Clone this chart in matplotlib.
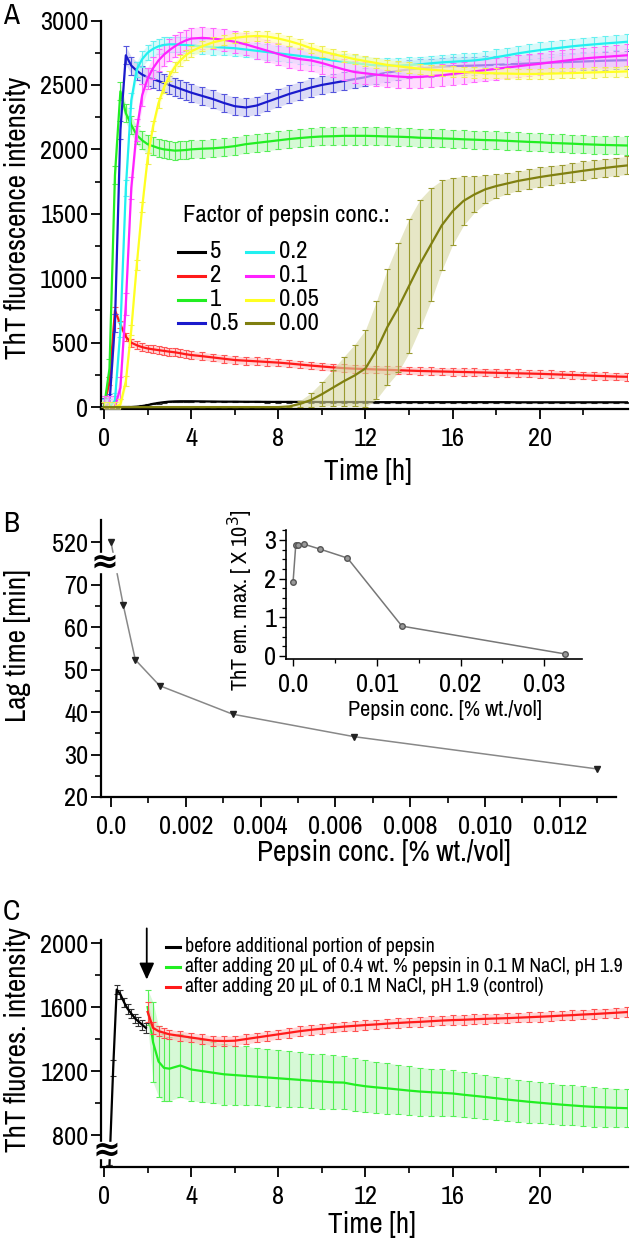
import matplotlib
matplotlib.use('Agg')
import matplotlib.pyplot as plt
from matplotlib.lines import Line2D
from matplotlib.patches import Rectangle
from matplotlib.ticker import MultipleLocator, FixedLocator
import matplotlib.font_manager as fm

available = {f.name for f in fm.fontManager.ttflist}
candidates = ['Liberation Sans Narrow', 'Arial Narrow', 'Archivo Narrow', 'Roboto Condensed',
              'PT Sans Narrow', 'Pragati Narrow', 'Open Sans Condensed']
narrow = next((c for c in candidates if c in available), None)
if narrow:
    FONT = [narrow, 'Liberation Sans', 'DejaVu Sans']
    SC = 1.0
else:
    FONT = ['Liberation Sans', 'DejaVu Sans']
    SC = 0.84
plt.rcParams['font.family'] = FONT

W, H = 633, 1243
fig = plt.figure(figsize=(W / 100, H / 100), dpi=100)


def fx(x):
    return x / W


def fy(y):
    return 1 - y / H


def ax_px(l, t, r, b):
    return fig.add_axes([l / W, 1 - b / H, (r - l) / W, (b - t) / H])


# ---------------------------------------------------------------- data A
t_a = [0, 0.25, 0.5, 0.75, 1, 1.25, 1.5, 1.75, 2, 2.25, 2.5, 2.75, 3, 3.25, 3.5, 3.75, 4,
       4.5, 5, 5.5, 6, 6.5, 7, 7.5, 8, 8.5, 9, 9.5, 10, 10.5, 11, 11.5, 12, 12.5, 13, 13.5,
       14, 14.5, 15, 15.5, 16, 16.5, 17, 17.5, 18, 18.5, 19, 19.5, 20, 20.5, 21, 21.5, 22,
       22.5, 23, 23.5, 24]

f5 = [0, 0, 0, 0, 0, 0, 3, 8, 15, 25, 32, 38, 42, 44, 45, 45, 45,
      44, 43, 42, 42, 41, 41, 40, 40, 40, 40, 40, 39, 39, 39, 39, 39, 38, 38, 38,
      38, 38, 38, 38, 38, 38, 38, 38, 38, 38, 37, 37, 37, 37, 37, 37, 37, 37, 37, 37, 37]
f2 = [0, 200, 750, 640, 545, 500, 480, 465, 455, 448, 442, 436, 430, 425, 418, 410, 404,
      395, 385, 375, 365, 360, 355, 350, 345, 338, 330, 322, 315, 308, 302, 298, 295, 292,
      289, 286, 283, 280, 278, 276, 274, 272, 270, 268, 266, 264, 262, 260, 258, 255, 252,
      249, 246, 243, 240, 237, 235]
f1 = [0, 300, 1800, 2450, 2280, 2190, 2110, 2070, 2040, 2025, 2010, 2000, 1995, 1990, 1992,
      1995, 2000, 2005, 2008, 2015, 2025, 2040, 2050, 2060, 2070, 2080, 2088, 2095, 2100,
      2102, 2105, 2105, 2105, 2103, 2100, 2098, 2095, 2090, 2088, 2085, 2082, 2078, 2075,
      2072, 2070, 2066, 2062, 2058, 2055, 2050, 2047, 2044, 2040, 2037, 2034, 2032, 2030]
f05 = [0, 30, 650, 2150, 2730, 2650, 2610, 2580, 2560, 2545, 2530, 2515, 2500, 2485, 2470,
       2455, 2440, 2415, 2390, 2360, 2335, 2325, 2340, 2370, 2400, 2430, 2455, 2480, 2500,
       2515, 2530, 2545, 2560, 2580, 2595, 2610, 2620, 2628, 2635, 2640, 2645, 2648, 2650,
       2653, 2656, 2660, 2663, 2666, 2670, 2673, 2676, 2679, 2682, 2685, 2688, 2690, 2692]
f02 = [0, 0, 50, 600, 1700, 2380, 2620, 2700, 2750, 2780, 2800, 2810, 2815, 2815, 2812,
       2810, 2805, 2800, 2795, 2790, 2785, 2775, 2765, 2755, 2745, 2735, 2725, 2715, 2705,
       2690, 2680, 2670, 2660, 2652, 2650, 2650, 2655, 2660, 2668, 2675, 2680, 2685, 2690,
       2700, 2715, 2730, 2745, 2758, 2770, 2780, 2790, 2800, 2808, 2815, 2822, 2828, 2835]
f01 = [0, 0, 0, 150, 800, 1700, 2150, 2420, 2550, 2630, 2690, 2735, 2770, 2800, 2825, 2845,
       2860, 2865, 2860, 2850, 2835, 2815, 2790, 2765, 2740, 2715, 2700, 2690, 2670, 2645,
       2620, 2600, 2590, 2580, 2572, 2565, 2560, 2562, 2568, 2575, 2585, 2595, 2605, 2615,
       2625, 2635, 2645, 2655, 2664, 2675, 2685, 2695, 2705, 2712, 2718, 2724, 2730]
f005 = [0, 0, 0, 20, 200, 600, 1100, 1550, 1930, 2180, 2360, 2480, 2570, 2640, 2690, 2730,
        2760, 2800, 2830, 2850, 2865, 2875, 2880, 2875, 2860, 2840, 2815, 2785, 2760, 2740,
        2720, 2700, 2685, 2670, 2655, 2645, 2635, 2625, 2618, 2612, 2605, 2600, 2596, 2592,
        2590, 2588, 2586, 2585, 2586, 2588, 2590, 2592, 2595, 2597, 2600, 2602, 2605]
f000 = [0, 0, 0, 0, 0, 0, 0, 0, 0, 0, 0, 0, 0, 0, 0, 0, 0,
        0, 0, 0, 0, 0, 0, 0, 0, 5, 25, 55, 100, 150, 200, 245, 300, 440, 620, 770, 940,
        1110, 1260, 1410, 1520, 1600, 1650, 1690, 1715, 1735, 1755, 1770, 1785, 1798, 1810,
        1822, 1834, 1845, 1856, 1866, 1875]
e000 = [0, 0, 0, 0, 0, 0, 0, 0, 0, 0, 0, 0, 0, 0, 0, 0, 0,
        0, 0, 0, 0, 0, 0, 0, 0, 5, 25, 55, 95, 140, 190, 240, 300, 380, 450, 500, 520,
        500, 440, 350, 260, 190, 140, 110, 90, 80, 75, 75, 75, 75, 72, 72, 72, 70, 70, 70, 70]

series_labels = ['5', '2', '1', '0.5', '0.2', '0.1', '0.05', '0.00']
series_vals = [f5, f2, f1, f05, f02, f01, f005, f000]
series_err = [5, 30, 70, 70, 60, 85, 40, e000]
series_col = ['#000000', '#ff1a1a', '#22ee22', '#1a1acc', '#22f0f0', '#ff22ff', '#ffff22', '#7f7f10']
series_ecol = ['#333333', '#ff5555', '#55ee55', '#5555dd', '#66f0f0', '#ff66ff', '#eeee55', '#9a9a30']
series_fill = ['#cccccc', '#ffbbbb', '#bbf5bb', '#c4c4f0', '#bbf8f8', '#ffc4ff', '#ffffaa', '#d6d6a0']

# ---------------------------------------------------------------- data B
conc = [0, 0.000325, 0.00065, 0.0013, 0.00325, 0.0065, 0.013]
lag_min = [520, 65.3, 52.3, 46.2, 39.5, 34.2, 26.6]
conc_all = [0, 0.000325, 0.00065, 0.0013, 0.00325, 0.0065, 0.013, 0.0325]
tht_max = [1.9, 2.87, 2.87, 2.89, 2.76, 2.53, 0.77, 0.05]

# ---------------------------------------------------------------- data C
t_black = [0.25, 0.42, 0.58, 0.75, 0.92, 1.08, 1.25, 1.42, 1.58, 1.75, 1.92]
v_black = [0, 1220, 1710, 1680, 1630, 1590, 1560, 1530, 1510, 1490, 1470]
e_black = [0, 50, 30, 30, 30, 30, 30, 30, 30, 30, 30]
t_after = [2.0, 2.25, 2.5, 2.75, 3, 3.5, 4, 4.5, 5, 5.5, 6, 6.5, 7, 7.5, 8, 8.5, 9, 9.5, 10,
           10.5, 11, 11.5, 12, 12.5, 13, 13.5, 14, 14.5, 15, 15.5, 16, 16.5, 17, 17.5, 18,
           18.5, 19, 19.5, 20, 20.5, 21, 21.5, 22, 22.5, 23, 23.5, 24]
v_pep = [1600, 1380, 1260, 1220, 1215, 1235, 1210, 1200, 1190, 1180, 1175, 1170, 1165, 1160,
         1155, 1150, 1145, 1140, 1135, 1130, 1128, 1115, 1105, 1098, 1092, 1085, 1078, 1072,
         1068, 1064, 1060, 1052, 1045, 1038, 1030, 1022, 1015, 1008, 1002, 996, 990, 985, 980,
         976, 973, 970, 968]
e_pep = [110, 250, 220, 210, 200, 200, 195, 195, 190, 190, 185, 185, 180, 180, 178, 175, 172,
         170, 170, 168, 165, 165, 163, 160, 158, 155, 152, 150, 148, 146, 144, 142, 140, 138,
         136, 134, 132, 130, 128, 127, 126, 125, 124, 123, 122, 121, 120]
v_ctrl = [1570, 1470, 1450, 1440, 1430, 1420, 1410, 1400, 1390, 1388, 1390, 1400, 1410, 1420,
          1430, 1440, 1450, 1458, 1465, 1472, 1478, 1483, 1488, 1492, 1497, 1501, 1505, 1508,
          1512, 1516, 1519, 1521, 1524, 1527, 1529, 1531, 1534, 1537, 1540, 1543, 1547, 1550,
          1554, 1557, 1561, 1565, 1569]
e_ctrl = [60, 40] + [30] * 45
legend_c = ['before additional portion of pepsin',
            'after adding 20 µL of 0.4 wt. % pepsin in 0.1 M NaCl, pH 1.9',
            'after adding 20 µL of 0.1 M NaCl, pH 1.9 (control)']

TICK_FS = 19 * SC
LAB_FS = 21 * SC


def style_axes(ax, fs=TICK_FS):
    for s in ['top', 'right']:
        ax.spines[s].set_visible(False)
    for s in ['left', 'bottom']:
        ax.spines[s].set_linewidth(1.6)
    ax.tick_params(which='major', direction='out', length=7, width=1.3, labelsize=fs, pad=2)
    ax.tick_params(which='minor', direction='out', length=4, width=1.2)


def band(ax, t, vals, err, color, z):
    if isinstance(err, list):
        lo = [v - e for v, e in zip(vals, err)]
        hi = [v + e for v, e in zip(vals, err)]
    else:
        lo = [v - err for v in vals]
        hi = [v + err for v in vals]
    ax.fill_between(t, lo, hi, color=color, lw=0, zorder=z, alpha=0.6)


# ================================================================ Panel A
axA = ax_px(101, 20.5, 628, 409)
for i in [7, 0, 2, 3, 5, 4, 6, 1]:
    vals = series_vals[i]
    err = series_err[i]
    z = 2 + i * 0.1
    band(axA, t_a, vals, err, series_fill[i], z - 0.05)
    axA.errorbar(t_a, vals, yerr=err, color=series_col[i], ecolor=series_ecol[i],
                 lw=1.6, elinewidth=0.8, capsize=2.2, capthick=0.8, zorder=z)
axA.set_xlim(-0.14, 24.05)
axA.set_ylim(-15, 3000)
axA.xaxis.set_major_locator(FixedLocator([0, 4, 8, 12, 16, 20]))
axA.xaxis.set_minor_locator(FixedLocator([2, 6, 10, 14, 18, 22]))
axA.yaxis.set_major_locator(MultipleLocator(500))
axA.yaxis.set_minor_locator(MultipleLocator(250))
style_axes(axA)
axA.tick_params(axis='x', pad=6)
fig.text(fx(18), fy(218), 'ThT fluorescence intensity', rotation=90, ha='center', va='center',
         fontsize=LAB_FS)
fig.text(fx(368), fy(472), 'Time [h]', ha='center', va='center', fontsize=LAB_FS)
fig.text(fx(3), fy(16), 'A', ha='left', va='center', fontsize=21 * SC)

# legend A (drawn manually)
fig.text(fx(183), fy(215), 'Factor of pepsin conc.:', ha='left', va='center', fontsize=17.8 * SC)
rows_y = [252, 276, 300, 323]
for k, i in enumerate(range(8)):
    col = k // 4
    row = k % 4
    hx0 = 178 if col == 0 else 246
    tx = 210 if col == 0 else 279
    yy = rows_y[row]
    fig.add_artist(Line2D([fx(hx0), fx(hx0 + 27)], [fy(yy), fy(yy)], color=series_col[i],
                          lw=2.2, transform=fig.transFigure))
    fig.text(fx(tx), fy(yy), series_labels[i], ha='left', va='center', fontsize=17.8 * SC)

# ================================================================ Panel B
axB = ax_px(101, 520, 616, 797)


def lag_disp(v):
    return v if v < 75 else 80 + (v - 520) * 0.01


axB.plot(conc, [lag_disp(v) for v in lag_min], color='#888888', lw=1.1, marker='v',
         markersize=4, markerfacecolor='#222222', markeredgecolor='#222222', clip_on=False)
axB.set_xlim(-0.000267, 0.0135)
axB.set_ylim(20, 85.2)
style_axes(axB)
axB.set_xticks([0, 0.002, 0.004, 0.006, 0.008, 0.010, 0.012])
axB.set_xticklabels(['0.0', '0.002', '0.004', '0.006', '0.008', '0.010', '0.012'])
axB.xaxis.set_minor_locator(MultipleLocator(0.001))
axB.set_yticks([20, 30, 40, 50, 60, 70, 80])
axB.set_yticklabels(['20', '30', '40', '50', '60', '70', '520'])
axB.yaxis.set_minor_locator(FixedLocator([25, 35, 45, 55, 65]))
axB.tick_params(axis='x', pad=6)
# axis break on y
fig.add_artist(Rectangle((fx(95), fy(572)), fx(22) - fx(0), fy(553) - fy(572),
                         transform=fig.transFigure, color='white', zorder=5))
fig.text(fx(104), fy(562), '≈', ha='center', va='center', fontsize=24, fontweight='bold',
         zorder=6, family=['DejaVu Sans'])
fig.text(fx(18), fy(646), 'Lag time [min]', rotation=90, ha='center', va='center',
         fontsize=LAB_FS)
fig.text(fx(384), fy(852), 'Pepsin conc. [% wt./vol]', ha='center', va='center',
         fontsize=LAB_FS)
fig.text(fx(3), fy(523), 'B', ha='left', va='center', fontsize=21 * SC)

# inset
axI = ax_px(286, 530, 582, 659)
axI.plot(conc_all, tht_max, color='#777777', lw=1.1, marker='o', markersize=4,
         markerfacecolor='#999999', markeredgecolor='#555555')
axI.set_xlim(-0.00084, 0.0345)
axI.set_ylim(-0.08, 3.256)
axI.set_xticks([0, 0.01, 0.02, 0.03])
axI.set_xticklabels(['0.0', '0.01', '0.02', '0.03'])
axI.xaxis.set_minor_locator(MultipleLocator(0.005))
axI.set_yticks([0, 1, 2, 3])
axI.yaxis.set_minor_locator(MultipleLocator(0.25))
style_axes(axI)
for s in ['left', 'bottom']:
    axI.spines[s].set_linewidth(1.2)
axI.tick_params(which='major', length=5, width=1.0)
axI.tick_params(which='minor', length=3, width=0.9)
axI.tick_params(axis='x', pad=5)
fig.text(fx(240), fy(600), 'ThT em. max. [ X 10$^3$]', rotation=90, ha='center', va='center',
         fontsize=16 * SC)
fig.text(fx(445), fy(710), 'Pepsin conc. [% wt./vol]', ha='center', va='center',
         fontsize=16 * SC)

# ================================================================ Panel C
axC = ax_px(101, 940, 628, 1167)


def c_disp(v):
    return v if v >= 700 else 615 + v * 0.1


band(axC, t_after, v_pep, e_pep, '#bbf5bb', 1.9)
axC.errorbar(t_after, v_pep, yerr=e_pep, color='#22ee22', ecolor='#55f055', lw=1.6,
             elinewidth=0.8, capsize=2.2, capthick=0.8, zorder=2)
band(axC, t_after, v_ctrl, e_ctrl, '#ffbbbb', 2.9)
axC.errorbar(t_after, v_ctrl, yerr=e_ctrl, color='#ff1a1a', ecolor='#ff5050', lw=1.6,
             elinewidth=0.8, capsize=2.2, capthick=0.8, zorder=3)
axC.errorbar(t_black, [c_disp(v) for v in v_black], yerr=e_black, color='#000000',
             ecolor='#333333', lw=1.6, elinewidth=0.8, capsize=2.2, capthick=0.8, zorder=4)
axC.set_xlim(-0.14, 24.05)
axC.set_ylim(600, 2020)
axC.xaxis.set_major_locator(FixedLocator([0, 4, 8, 12, 16, 20]))
axC.xaxis.set_minor_locator(FixedLocator([2, 6, 10, 14, 18, 22]))
axC.set_yticks([800, 1200, 1600, 2000])
axC.yaxis.set_minor_locator(FixedLocator([1000, 1400, 1800]))
style_axes(axC)
axC.tick_params(axis='x', pad=6)
axC.annotate('', xy=(1.96, 1755), xytext=(1.96, 2110), annotation_clip=False,
             arrowprops=dict(arrowstyle='-|>,head_width=0.45,head_length=1.0',
                             color='black', lw=1.3))
fig.add_artist(Rectangle((fx(95), fy(1158)), fx(22) - fx(0), fy(1142) - fy(1158),
                         transform=fig.transFigure, color='white', zorder=5))
fig.text(fx(107), fy(1150), '≈', ha='center', va='center', fontsize=24, fontweight='bold',
         zorder=6, family=['DejaVu Sans'])
leg_cols = ['#000000', '#22ee22', '#ff1a1a']
for k, lab in enumerate(legend_c):
    yy = 947 + 20 * k
    fig.add_artist(Line2D([fx(166), fx(180)], [fy(yy), fy(yy)], color=leg_cols[k], lw=2.2,
                          transform=fig.transFigure))
    fig.text(fx(185), fy(yy), lab, ha='left', va='center', fontsize=14.4 * SC)
fig.text(fx(18), fy(1040), 'ThT fluores. intensity', rotation=90, ha='center', va='center',
         fontsize=LAB_FS)
fig.text(fx(372), fy(1225), 'Time [h]', ha='center', va='center', fontsize=LAB_FS)
fig.text(fx(3), fy(912), 'C', ha='left', va='center', fontsize=21 * SC)

fig.savefig('out.png', dpi=100)
